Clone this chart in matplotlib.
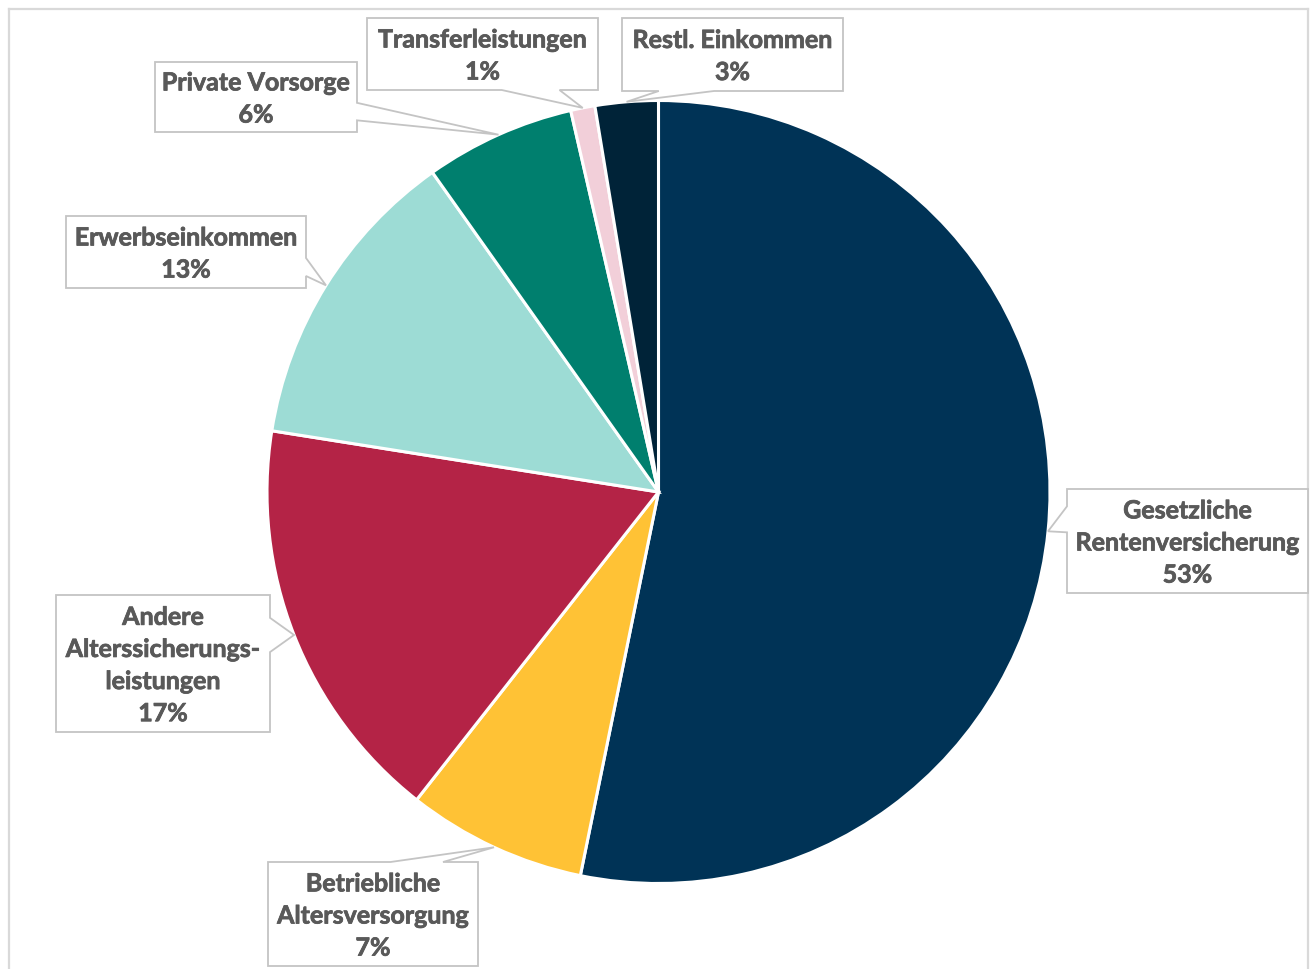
import numpy as np
import matplotlib
matplotlib.use("Agg")
import matplotlib.pyplot as plt
from matplotlib.patches import Polygon
from matplotlib.lines import Line2D
import matplotlib.patheffects as pe

# ---- data ----
categories = ["Gesetzliche\nRentenversicherung", "Betriebliche\nAltersversorgung",
              "Andere\nAlterssicherungs-\nleistungen", "Erwerbseinkommen",
              "Private Vorsorge", "Transferleistungen", "Restl. Einkommen"]
values = [53.2, 7.4, 16.9, 12.7, 6.2, 1.0, 2.6]
colors = ["#003356", "#FFC235", "#B42346", "#9DDCD5", "#007F6E", "#F2CFD9", "#002338"]

# ---- layout (pixel units, y measured from top) ----
W, H = 1311, 969
CX, CY, R = 658.5, 492, 391.5
boxes = [  # left, top, right, bottom, side of pointer
    (1067, 489, 1308, 593, "left"),
    (268, 862, 478, 966, "top"),
    (56, 595, 270, 732, "right"),
    (66, 216, 306, 288, "right"),
    (155, 62, 357, 132, "right"),
    (367, 18, 598, 90, "bottom"),
    (622, 18, 843, 91, "bottom"),
]

TEXT_COLOR = "#595959"
BOX_EDGE = "#C4C4C4"

fig = plt.figure(figsize=(W / 100, H / 100), dpi=100)
ax = fig.add_axes([0, 0, 1, 1])

ax.pie(values, colors=colors, startangle=90, counterclock=False,
       center=(CX, H - CY), radius=R,
       wedgeprops=dict(edgecolor="white", linewidth=2.2, joinstyle="miter"))
ax.set_xlim(0, W)
ax.set_ylim(0, H)
ax.set_aspect("equal")
ax.axis("off")

total = sum(values)
cum = np.concatenate([[0], np.cumsum(values)])


def fy(y):
    return H - y


for i, (lab, v) in enumerate(zip(categories, values)):
    mid = np.deg2rad(360 * (cum[i] + v / 2) / total)
    tx = CX + R * np.sin(mid)
    ty = CY - R * np.cos(mid)  # pixel y (top-down)
    l, t, r, b, side = boxes[i]
    w, h = r - l, b - t
    bcx, bcy = (l + r) / 2, (t + b) / 2
    if side in ("left", "right"):
        if ty > bcy:
            y1, y2 = t + h * 7 / 12, t + h * 10 / 12
        else:
            y1, y2 = t + h * 2 / 12, t + h * 5 / 12
        if side == "right":
            pts = [(l, t), (r, t), (r, y1), (tx, ty), (r, y2), (r, b), (l, b)]
        else:
            pts = [(l, t), (r, t), (r, b), (l, b), (l, y2), (tx, ty), (l, y1)]
    else:
        if tx > bcx:
            x1, x2 = l + w * 7 / 12, l + w * 10 / 12
        else:
            x1, x2 = l + w * 2 / 12, l + w * 5 / 12
        if side == "top":
            pts = [(l, t), (x1, t), (tx, ty), (x2, t), (r, t), (r, b), (l, b)]
        else:
            pts = [(l, t), (r, t), (r, b), (x2, b), (tx, ty), (x1, b), (l, b)]
    poly = Polygon([(x, fy(y)) for x, y in pts], closed=True, facecolor="white",
                   edgecolor=BOX_EDGE, linewidth=1.3, zorder=5, joinstyle="miter")
    ax.add_patch(poly)
    pct = f"{round(v):d}%"
    ax.text(bcx, fy(bcy) - 2, f"{lab}\n{pct}", ha="center", va="center",
            multialignment="center", fontsize=18, fontweight="bold",
            family="Lato", color=TEXT_COLOR, linespacing=1.48, zorder=6,
            path_effects=[pe.withStroke(linewidth=0.55, foreground=TEXT_COLOR)])

# outer frame (left, top, right)
frame_c = "#D9D9D9"
for xs, ys in [((9, 9), (9, H + 5)), ((9, 1308), (9, 9)), ((1308, 1308), (9, H + 5))]:
    ax.add_line(Line2D(xs, [fy(y) for y in ys], color=frame_c, linewidth=1.6, zorder=1))

fig.savefig("out.png", dpi=100)
